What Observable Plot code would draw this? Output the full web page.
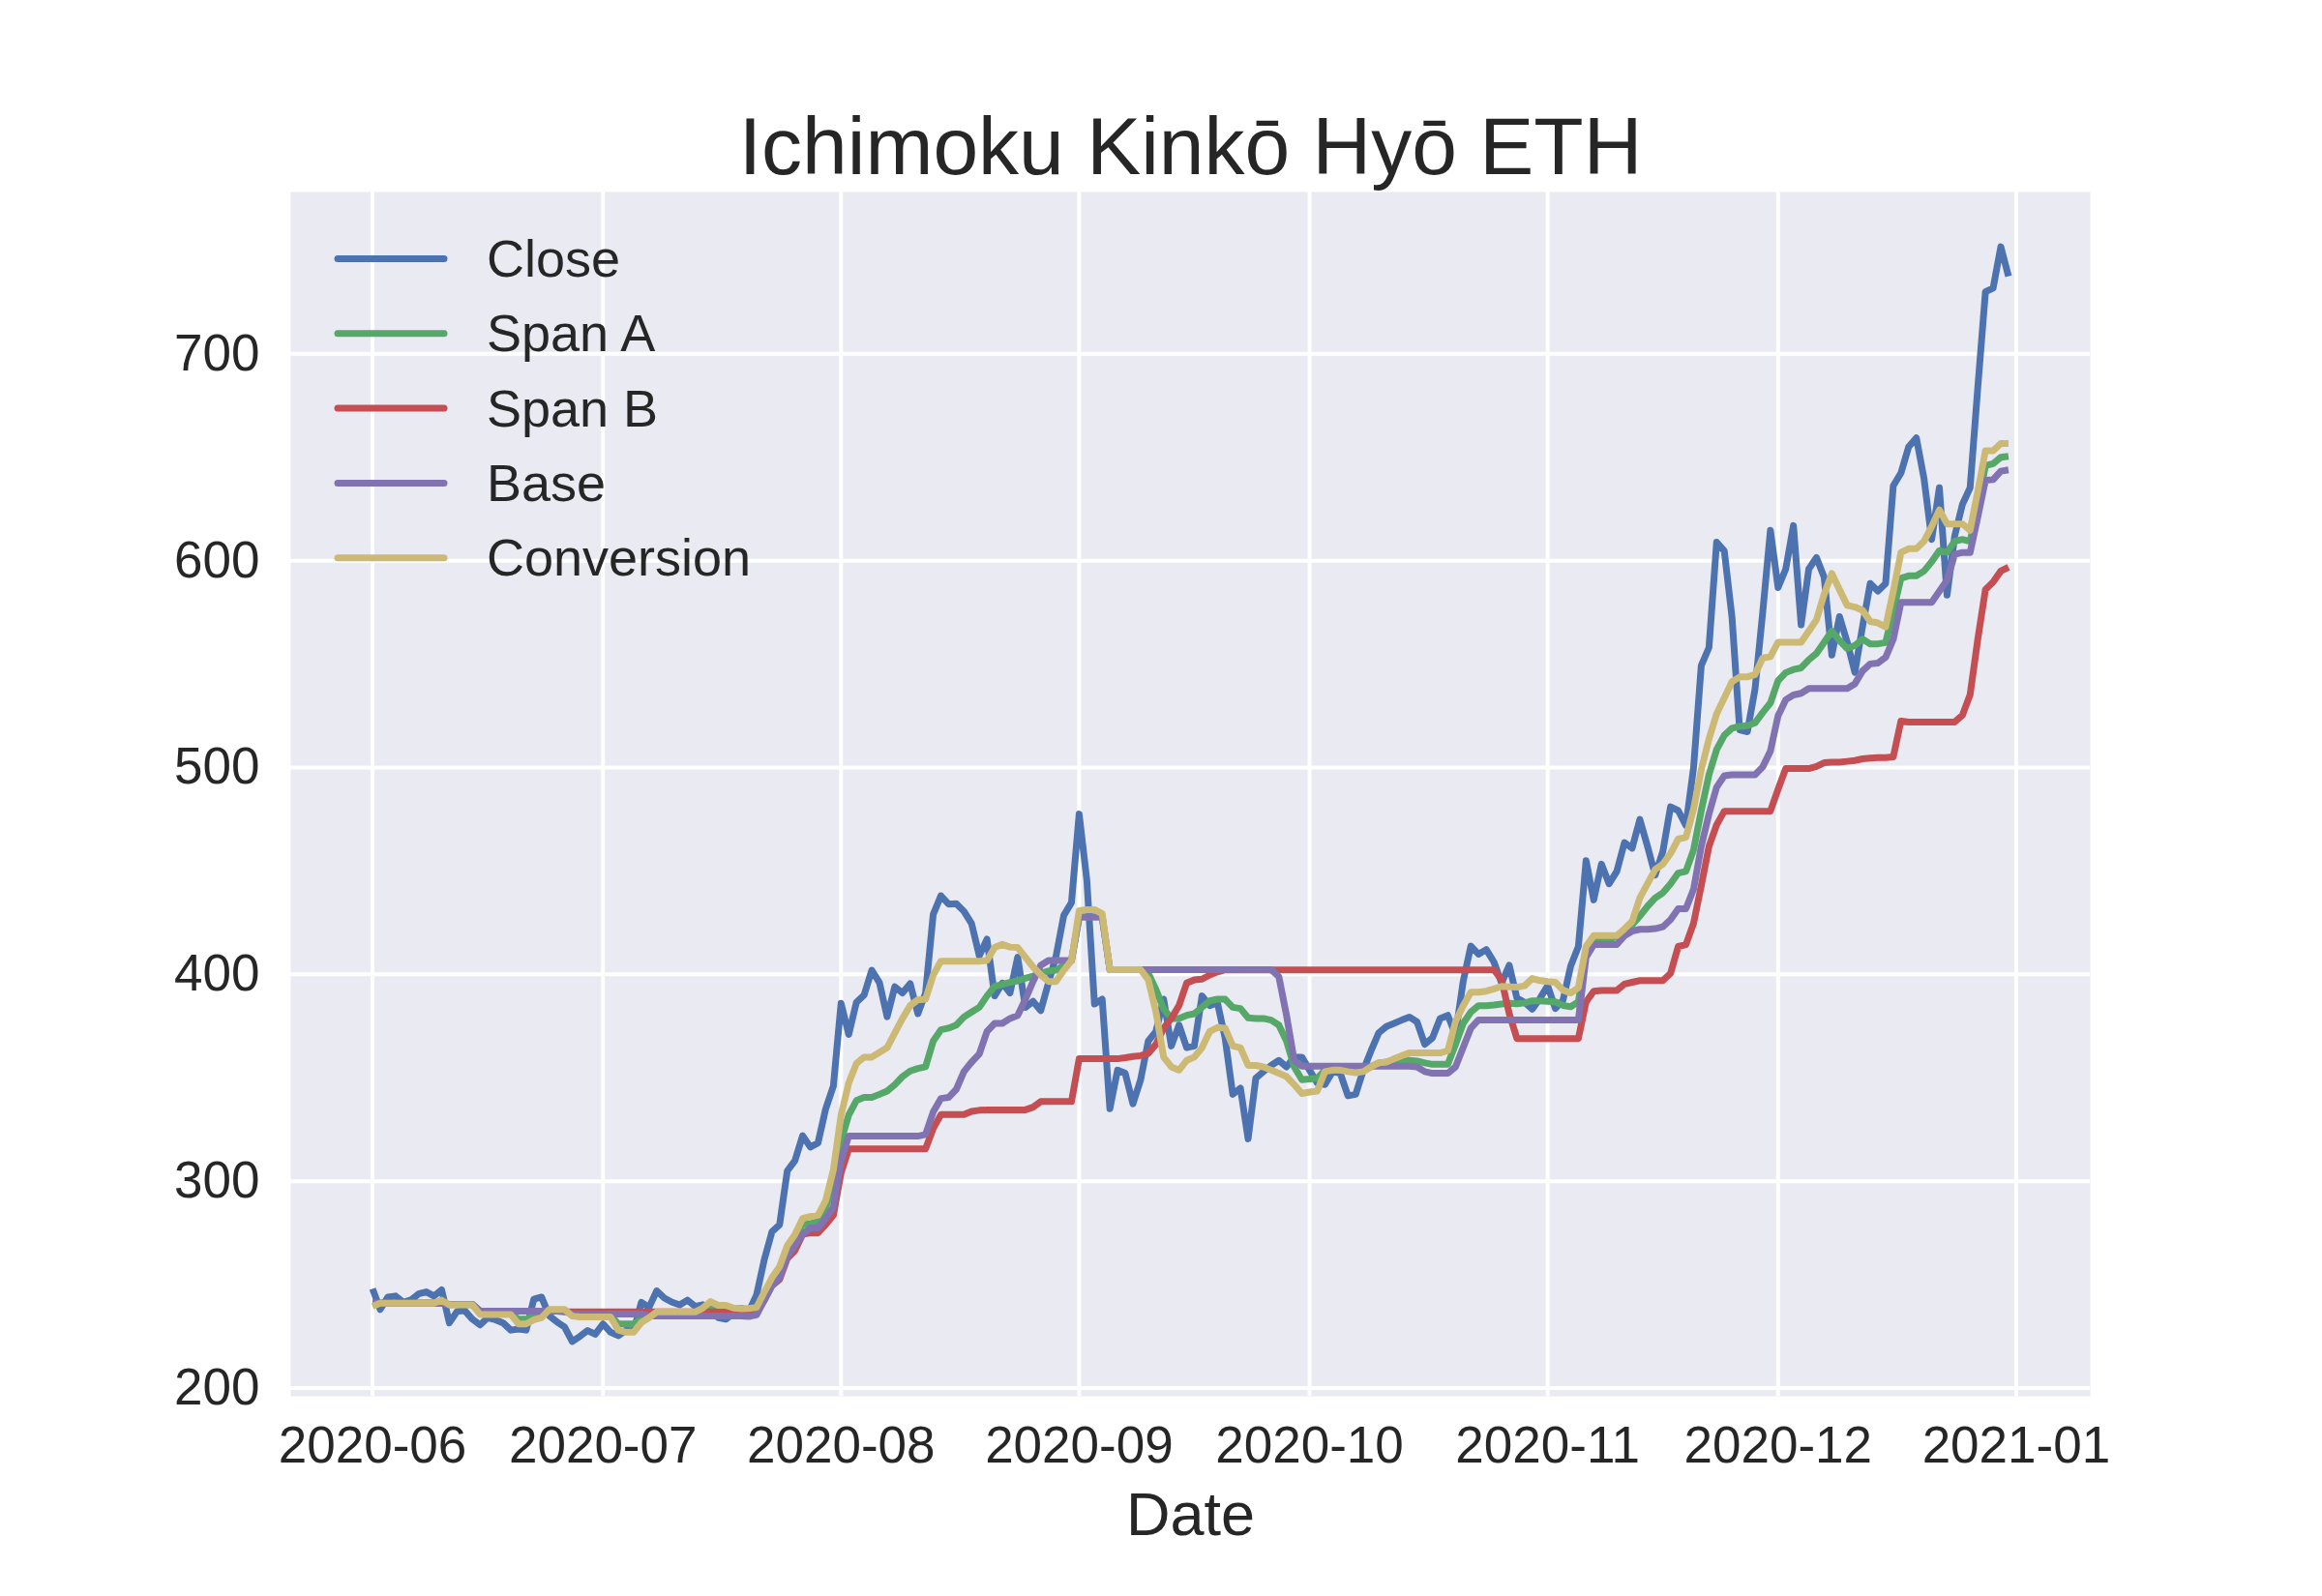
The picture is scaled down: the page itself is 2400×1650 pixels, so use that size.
<!DOCTYPE html>
<html>
<head>
<meta charset="utf-8">
<script src="https://cdn.jsdelivr.net/npm/d3@7"></script>
<script src="https://cdn.jsdelivr.net/npm/@observablehq/plot@0.6"></script>
<style>
  html, body { margin: 0; padding: 0; background: #ffffff; }
  #chart { position: relative; width: 2400px; height: 1650px; }
</style>
</head>
<body>
<div id="chart"></div>
<script>
// ---------------- data (daily, 2020-06-01 .. 2020-12-31) ----------------
const firstDay = "2020-06-01";
const seriesNames = ["Close", "Span A", "Span B", "Base", "Conversion"];
const seriesColors = ["#4C72B0", "#55A868", "#C44E52", "#8172B2", "#CCB974"];

const closeVals = [
  248, 238, 244, 244.5, 241.5, 242.6, 245.5, 246.5, 244.5, 247.5,
  231.5, 237, 237.5, 233.3, 230.5, 234, 233, 231.5, 228, 228.5,
  228, 243, 244, 235, 232, 229.5, 222.5, 225, 227.8, 226,
  231, 227, 225.3, 228, 227.5, 241.5, 239, 247, 243.5, 241.5,
  240.2, 242.5, 239.5, 240.3, 238.5, 234, 233.3, 236, 238.5, 237,
  245, 262, 275.5, 279, 305, 310, 322, 316.5, 318.5, 335,
  346, 386, 371, 386.5, 390, 402, 396, 379.5, 394, 391,
  395.5, 381, 391, 429, 438, 434, 434.2, 430.5, 424.5, 409,
  417, 389.6, 395.8, 391, 408.3, 384, 387, 382.5, 395.8, 409,
  428.5, 434.7, 477.5, 445.6, 385.7, 388, 335, 353.7, 352.2, 337.4,
  349, 367.8, 372.4, 388, 365.4, 375.5, 364.6, 365.4, 389.6, 384.9,
  386.4, 369.3, 342, 345, 320.5, 349.8, 353, 356, 358.4, 355.3,
  360, 360, 353.7, 347.5, 346.7, 353, 352.2, 341.3, 342, 353.7,
  363, 371.7, 374.8, 376.3, 377.9, 379.4, 377, 366.2, 369.3, 378.7,
  380.2, 370.9, 396.6, 413.7, 409.8, 412, 406, 395.8, 404.4, 388.5,
  386.5, 383.2, 388.4, 394.5, 383.5, 387.5, 404, 413.5, 455, 436,
  453.3, 443.8, 449.8, 463.7, 461, 474.9, 461.9, 448, 459.5, 481,
  479.2, 472, 500, 549.3, 558, 609, 604.7, 572.7, 518.2, 517.3,
  538, 575, 614.7, 587, 596, 617, 569, 596, 601.5, 592,
  554.4, 573, 560.6, 546, 568.3, 589, 585.3, 589, 636.2, 642.4,
  655, 659.4, 639.8, 610.3, 635.3, 583.4, 612, 627.2, 635.3, 683.6,
  730, 731.8, 751.8, 737.5
];

const spanAVals = [
  241, 241, 241, 241, 241, 241, 241, 241, 241, 241,
  240.3, 240.3, 240.3, 240.3, 236.4, 236.4, 236.4, 236.4, 236.4, 233.3,
  233.3, 235, 236, 237.5, 237.5, 237.5, 235.2, 235.2, 235.2, 235.2,
  235.2, 235.2, 231, 231, 231, 233.5, 234.5, 235.8, 235.8, 235.8,
  235.8, 235.8, 235.8, 238.5, 238.5, 238.5, 238.5, 238.5, 238.5, 238,
  239, 245, 252, 257, 266, 272, 279, 279.5, 280.5, 286.8,
  300, 319.5, 332, 339, 340.5, 340.5, 342, 343.6, 346.7, 350.6,
  353.3, 354.5, 355.3, 367.8, 373.2, 374, 375.5, 379.4, 381.8, 384.1,
  389.6, 394.2, 395.2, 396.1, 396.9, 398.1, 399.2, 400.5, 401.6, 402,
  404.4, 406.7, 427.7, 427.7, 427.7, 427.7, 402.3, 402.3, 402.3, 402.3,
  402.3, 400.5, 392.7, 383.3, 378.7, 378.7, 380.2, 381, 384.1, 387.2,
  388, 388, 384.1, 383.5, 379, 378.7, 378.7, 377.9, 375.5, 367.8,
  355.3, 349.1, 349.4, 349.8, 353.7, 353.7, 353.7, 353.7, 353.7, 353.7,
  355.3, 357.2, 357.6, 358.1, 358.7, 358.4, 358.1, 357.2, 356.5, 356.5,
  356.5, 366.2, 376.3, 381.8, 384.9, 384.9, 385.2, 385.7, 386, 385.8,
  386.2, 387.2, 387.2, 387, 386.7, 385, 384.4, 386.7, 410.9, 416,
  416.6, 416.6, 418.7, 421.3, 423.9, 428.2, 432.9, 436.9, 439.4, 443.8,
  449, 449.8, 460.2, 479.2, 496.5, 508.7, 515.6, 519, 519.9, 520.2,
  521.6, 526.6, 531.2, 542, 545.9, 547.4, 548.2, 552.1, 555.2, 560.6,
  566, 561.4, 557.5, 559, 562.1, 559.8, 559.8, 560.4, 575.7, 591.5,
  592.7, 592.7, 595, 599.5, 604.9, 604, 609.4, 610.3, 609.4, 626.3,
  646, 646.9, 650, 650.5
];

const spanBVals = [
  241, 241, 241, 241, 241, 241, 241, 241, 241, 241,
  240.5, 240.5, 240.5, 240.5, 237.2, 237.2, 237.2, 237.2, 237.2, 237.2,
  237.2, 237.2, 237.2, 237.2, 237.2, 236.8, 236.8, 236.8, 236.8, 236.8,
  236.8, 236.8, 236.8, 236.8, 236.8, 236.8, 236.8, 236.8, 236.8, 236.8,
  236.8, 236.8, 236.8, 236.8, 236.8, 236.8, 236.8, 236.8, 236.8, 237,
  237.5, 242.4, 249.5, 252.5, 262.6, 266.5, 274.3, 275, 275, 279,
  283.6, 304, 315.6, 315.6, 315.6, 315.6, 315.6, 315.6, 315.6, 315.6,
  315.6, 315.6, 315.6, 325.5, 332.2, 332.2, 332.2, 332.2, 333.8, 334.3,
  334.5, 334.5, 334.5, 334.5, 334.5, 334.5, 335.8, 338.5, 338.5, 338.5,
  338.5, 338.5, 359.2, 359.2, 359.2, 359.2, 359.2, 359.2, 359.7, 360.3,
  360.7, 361.8, 366.2, 374, 378.7, 384.9, 395.8, 397.4, 397.7, 399.7,
  401.2, 402.2, 402.2, 402.2, 402.2, 402.2, 402.2, 402.2, 402.2, 402.2,
  402.2, 402.2, 402.2, 402.2, 402.2, 402.2, 402.2, 402.2, 402.2, 402.2,
  402.2, 402.2, 402.2, 402.2, 402.2, 402.2, 402.2, 402.2, 402.2, 402.2,
  402.2, 402.2, 402.2, 402.2, 402.2, 402.2, 402.2, 397.4, 381, 369,
  369, 369, 369, 369, 369, 369, 369, 369, 386.7, 391.9,
  392.2, 392.2, 392.2, 395.3, 396.2, 397, 397, 397, 397, 400.5,
  413.5, 414.4, 424.7, 442.9, 461.9, 472.3, 478.9, 478.9, 478.9, 478.9,
  478.9, 478.9, 478.9, 489.5, 499.5, 499.5, 499.5, 499.5, 500.5, 502.3,
  502.6, 502.6, 503, 503.4, 504.2, 504.6, 504.8, 504.8, 505.2, 522.5,
  522, 522, 522, 522, 522, 522, 522, 525.3, 535.2, 562,
  586.1, 589.7, 595, 596.9
];

const baseVals = [
  241, 241, 241, 241, 241, 241, 241, 241, 241, 241,
  240.5, 240.5, 240.5, 240.5, 237.2, 237.2, 237.2, 237.2, 237.2, 237.2,
  237.2, 237.2, 237.2, 237.2, 237.2, 237.2, 235.8, 235.8, 235.8, 235.8,
  235.8, 235.8, 235.8, 235.8, 235.8, 235.8, 234.8, 234.8, 234.8, 234.8,
  234.8, 234.8, 234.8, 234.8, 234.8, 234.8, 234.8, 234.8, 234.8, 234.6,
  235.4, 242.4, 249.5, 253.3, 263.5, 268.9, 274.3, 277.4, 277.4, 282,
  287.5, 310, 321.8, 321.8, 321.8, 321.8, 321.8, 321.8, 321.8, 321.8,
  321.8, 321.8, 322.6, 333.5, 340, 340.5, 344.4, 353, 357.6, 361.5,
  372.4, 376.3, 376.3, 378.7, 380.2, 388, 396.6, 404.4, 406.7, 406.7,
  406.7, 406.7, 427.7, 427.7, 427.7, 427.7, 402.3, 402.3, 402.3, 402.3,
  402.3, 402.3, 402.3, 402.3, 402.3, 402.3, 402.3, 402.3, 402.3, 402.3,
  402.3, 402.3, 402.3, 402.3, 402.3, 402.3, 402.3, 402.3, 398.9, 380.2,
  358.4, 355.6, 355.6, 355.6, 355.6, 355.6, 355.6, 355.6, 355.6, 355.6,
  355.6, 355.6, 355.6, 355.6, 355.6, 355.6, 355.3, 353, 352.2, 352.2,
  352.2, 355.3, 364.6, 374, 378, 378, 378, 378, 378, 378,
  378, 378, 378, 378, 378, 378, 378, 378, 408.3, 414.4,
  414.4, 414.4, 414.4, 418.7, 420.9, 421.8, 421.8, 422.1, 423, 426.5,
  431.7, 431.7, 441.2, 461.9, 477.5, 490.5, 496, 496.5, 496.5, 496.5,
  496.5, 500.3, 508, 525, 532.8, 535.1, 535.9, 538.2, 538.2, 538.2,
  538.2, 538.2, 538.2, 540.5, 546.7, 550.1, 550.5, 553.3, 562, 579.9,
  579.9, 579.9, 579.9, 579.9, 585.2, 590.6, 603.1, 604, 604, 621,
  638.9, 639.2, 643.3, 643.9
];

const conversionVals = [
  239.5, 241, 241, 241, 241, 241, 241, 241, 241, 242.5,
  240.2, 240.2, 240.2, 240.2, 235.6, 235.6, 235.6, 235.6, 235.6, 231,
  231, 233, 234, 238, 238, 238, 234.8, 234.4, 234.4, 234.4,
  234.4, 234.4, 228, 227, 227, 231.7, 234, 236.8, 236.8, 236.8,
  236.8, 236.8, 236.8, 238.7, 241.8, 240, 240, 238.7, 238.4, 238.5,
  239, 246.3, 253.3, 258.7, 268.9, 274.3, 282, 282.9, 283.6, 290.7,
  305.5, 332, 347.5, 356.9, 360, 360, 362.3, 364.6, 371.7, 378.7,
  384.9, 387.7, 388, 399.7, 406.4, 406.4, 406.4, 406.4, 406.4, 406.4,
  406.7, 413, 414.5, 413.2, 413, 408.3, 403.6, 399.7, 396.6, 396.6,
  402, 406.7, 430.8, 431.3, 431.3, 429.3, 402.3, 402.3, 402.3, 402.3,
  402.3, 397.4, 381.8, 360, 355.3, 353.7, 358.4, 360, 364.6, 372.4,
  374.3, 374, 365.4, 364.6, 356, 356, 355.3, 353.7, 352.2, 350.6,
  346.7, 342.4, 343.1, 343.6, 353, 353.7, 353.7, 353, 352.5, 353,
  355.3, 357.2, 357.6, 359.2, 360.7, 362, 362, 362, 362, 362,
  363.1, 377.1, 384.9, 391.4, 391.4, 391.9, 393, 394.2, 394, 393.8,
  394.5, 398, 397, 396.5, 396.2, 392.4, 391, 393.6, 413.5, 418.7,
  418.7, 418.7, 418.7, 422, 425.6, 436.9, 443.8, 450.7, 453.3, 458.5,
  465.4, 466.3, 480, 499, 513.8, 526, 533.7, 541.5, 543.8, 543.8,
  545, 553, 553.6, 560.6, 560.6, 560.6, 560.6, 566, 571.4, 583.8,
  593.8, 586, 578.4, 577.6, 576, 570.6, 569.9, 568, 585.2, 604,
  605.8, 605.8, 609.4, 616.5, 624.6, 617.8, 617.8, 617.8, 614.7, 633.5,
  653.2, 653.2, 656.7, 656.7
];

const xTickDates = ["2020-06-01", "2020-07-01", "2020-08-01", "2020-09-01", "2020-10-01", "2020-11-01", "2020-12-01", "2021-01-01"];
const xTickLabels = ["2020-06", "2020-07", "2020-08", "2020-09", "2020-10", "2020-11", "2020-12", "2021-01"];
const yTicks = [200, 300, 400, 500, 600, 700];

const titleText = "Ichimoku Kinkō Hyō ETH";
const xLabelText = "Date";

// ---------------- build table ----------------
const valueLists = [closeVals, spanAVals, spanBVals, baseVals, conversionVals];
const t0 = new Date(firstDay + "T00:00:00Z");
const rows = [];
valueLists.forEach((vals, si) => {
  vals.forEach((v, i) => {
    rows.push({date: d3.utcDay.offset(t0, i), value: v, series: seriesNames[si]});
  });
});

const tickDates = xTickDates.map(s => new Date(s + "T00:00:00Z"));
const nDays = closeVals.length - 1;
const lastDate = d3.utcDay.offset(t0, nDays);
const span = lastDate - t0;
const xDomain = [new Date(+t0 - 0.05 * span), new Date(+lastDate + 0.05 * span)];
const allVals = valueLists.flat();
const yMin = d3.min(allVals), yMax = d3.max(allVals);
const yPad = 0.05 * (yMax - yMin);
const yDomain = [yMin - yPad, yMax + yPad];

const textColor = "#262626";
const fontFamily = "'Liberation Sans', Arial, Helvetica, sans-serif";

const chart = Plot.plot({
  width: 2400,
  height: 1650,
  marginLeft: 300,
  marginRight: 240,
  marginTop: 198,
  marginBottom: 207,
  style: {fontFamily, fontSize: "53px", color: textColor, background: "#ffffff", overflow: "visible"},
  x: {type: "utc", domain: xDomain},
  y: {domain: yDomain},
  color: {domain: seriesNames, range: seriesColors},
  marks: [
    Plot.frame({fill: "#EAEAF2", stroke: null}),
    Plot.gridX(tickDates, {stroke: "#ffffff", strokeOpacity: 1, strokeWidth: 4}),
    Plot.gridY(yTicks, {stroke: "#ffffff", strokeOpacity: 1, strokeWidth: 4}),
    Plot.axisX(tickDates, {
      tickSize: 0, tickPadding: 31, fontSize: 53, label: null,
      tickFormat: (d, i) => xTickLabels[i], fill: textColor
    }),
    Plot.axisY(yTicks, {tickSize: 0, tickPadding: 32, fontSize: 53, label: null, fill: textColor}),
    Plot.line(rows, {
      x: "date", y: "value", z: "series", stroke: "series",
      strokeWidth: 7, strokeLinejoin: "round", strokeLinecap: "butt"
    }),
    Plot.text([titleText], {frameAnchor: "top", dy: -19, lineAnchor: "bottom", fontSize: 84, fill: textColor}),
    Plot.text([xLabelText], {frameAnchor: "bottom", dy: 143, lineAnchor: "bottom", fontSize: 63, fill: textColor})
  ]
});

document.getElementById("chart").appendChild(chart);

// ---------------- legend (upper left, inside axes) ----------------
const svg = d3.select(chart);
const lg = svg.append("g")
  .attr("font-family", fontFamily)
  .attr("font-size", 54)
  .attr("fill", textColor)
  .attr("text-anchor", "start");
seriesNames.forEach((name, i) => {
  const yLine = 267.5 + i * 77.3;
  lg.append("line")
    .attr("x1", 349).attr("x2", 459)
    .attr("y1", yLine).attr("y2", yLine)
    .attr("stroke", seriesColors[i]).attr("stroke-width", 7).attr("stroke-linecap", "round");
  lg.append("text")
    .attr("x", 503).attr("y", yLine + 18.5)
    .attr("text-anchor", "start")
    .text(name);
});
</script>
</body>
</html>
